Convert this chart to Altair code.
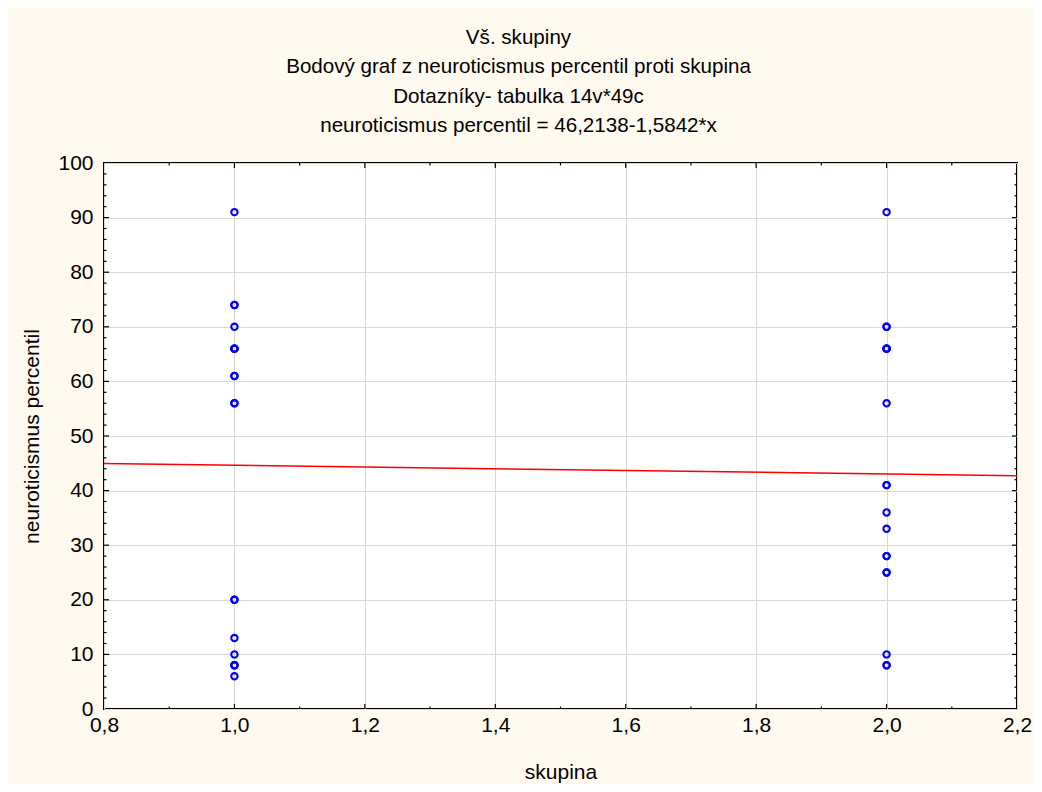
import altair as alt
import pandas as pd

# ---- data ----
group1_values = [91, 74, 74, 70, 66, 66, 66, 66, 61, 61, 56, 56, 20, 20, 13, 10, 8, 8, 8, 6]
group2_values = [91, 70, 70, 66, 66, 66, 66, 56, 41, 41, 36, 33, 28, 28, 25, 25, 10, 8, 8]
intercept = 46.2138
slope = -1.5842
x_ticks = [0.8, 1.0, 1.2, 1.4, 1.6, 1.8, 2.0, 2.2]
x_minor = [0.9, 1.1, 1.3, 1.5, 1.7, 1.9, 2.1]
y_ticks = [0, 10, 20, 30, 40, 50, 60, 70, 80, 90, 100]
y_minor = [v for v in range(0, 101, 2) if v % 10 != 0]
title_lines = [
    "Vš. skupiny",
    "Bodový graf z neuroticismus percentil proti skupina",
    "Dotazníky- tabulka 14v*49c",
    "neuroticismus percentil = 46,2138-1,5842*x",
]

FONT = "Liberation Sans"
W, H = 913, 546

points = pd.DataFrame(
    {"skupina": [1.0] * len(group1_values) + [2.0] * len(group2_values),
     "val": group1_values + group2_values}
)
line_df = pd.DataFrame({"skupina": [x_ticks[0], x_ticks[-1]]})

xs = alt.Scale(domain=[0.8, 2.2], nice=False, zero=False)
ys = alt.Scale(domain=[0, 100], nice=False, zero=False)

label_expr = "replace(format(datum.value, '.1f'), '.', ',')"

pts = alt.Chart(points).mark_point(
    shape="circle", filled=False, color="#0000ff", size=40, strokeWidth=2.1, opacity=1
).encode(
    x=alt.X("skupina:Q", scale=xs,
            axis=alt.Axis(title="skupina", values=x_ticks, labelExpr=label_expr,
                          ticks=False, domain=False, grid=True, gridColor="#d9d9d9",
                          labelFont=FONT, labelFontSize=21, labelColor="black",
                          labelPadding=5, titleFont=FONT, titleFontSize=21,
                          titleFontWeight="normal", titleColor="black", titlePadding=26,
                          labelFlush=False)),
    y=alt.Y("val:Q", scale=ys,
            axis=alt.Axis(title="neuroticismus percentil", values=y_ticks,
                          ticks=False, domain=False, grid=True, gridColor="#d9d9d9",
                          labelFont=FONT, labelFontSize=21, labelColor="black",
                          labelPadding=11, titleFont=FONT, titleFontSize=21,
                          titleFontWeight="normal", titleColor="black", titlePadding=15,
                          labelFlush=False)),
)

reg = alt.Chart(line_df).transform_calculate(
    fit=f"{intercept} + ({slope}) * datum.skupina"
).mark_line(color="#ff0000", strokeWidth=1.5).encode(
    x=alt.X("skupina:Q", scale=xs),
    y=alt.Y("fit:Q", scale=ys),
)

yt = pd.DataFrame({"v": y_ticks[1:-1], "kind": "major"})
ytm = pd.DataFrame({"v": y_minor, "kind": "minor"})
xt = pd.DataFrame({"v": x_ticks[1:-1], "kind": "major"})
xtm = pd.DataFrame({"v": x_minor, "kind": "minor"})

def yticks(df, length):
    base = alt.Chart(df).mark_rule(color="black", strokeWidth=1.2)
    left = base.encode(y=alt.Y("v:Q", scale=ys), x=alt.value(0), x2=alt.value(length))
    right = base.encode(y=alt.Y("v:Q", scale=ys), x=alt.value(W), x2=alt.value(W - length))
    return left + right

def xticks(df, length):
    base = alt.Chart(df).mark_rule(color="black", strokeWidth=1.2)
    bottom = base.encode(x=alt.X("v:Q", scale=xs), y=alt.value(H), y2=alt.value(H - length))
    top = base.encode(x=alt.X("v:Q", scale=xs), y=alt.value(0), y2=alt.value(length))
    return bottom + top

chart = alt.layer(
    pts, reg,
    yticks(yt, 5), yticks(ytm, 2.5), xticks(xt, 5), xticks(xtm, 2.5),
).properties(
    width=W, height=H,
    background="#fffaf0",
    padding={"left": 96, "top": 155, "right": 17, "bottom": 75},
    autosize=alt.AutoSizeParams(type="none"),
    title=alt.TitleParams(
        text=title_lines, font=FONT, fontSize=20.6, fontWeight="normal", color="black",
        lineHeight=29.5, anchor="middle", dx=-42, offset=15,
    ),
).configure_view(
    stroke="black", strokeWidth=2, fill="white"
)

chart.save("out.html", embed_options={"renderer": "svg", "actions": False})
